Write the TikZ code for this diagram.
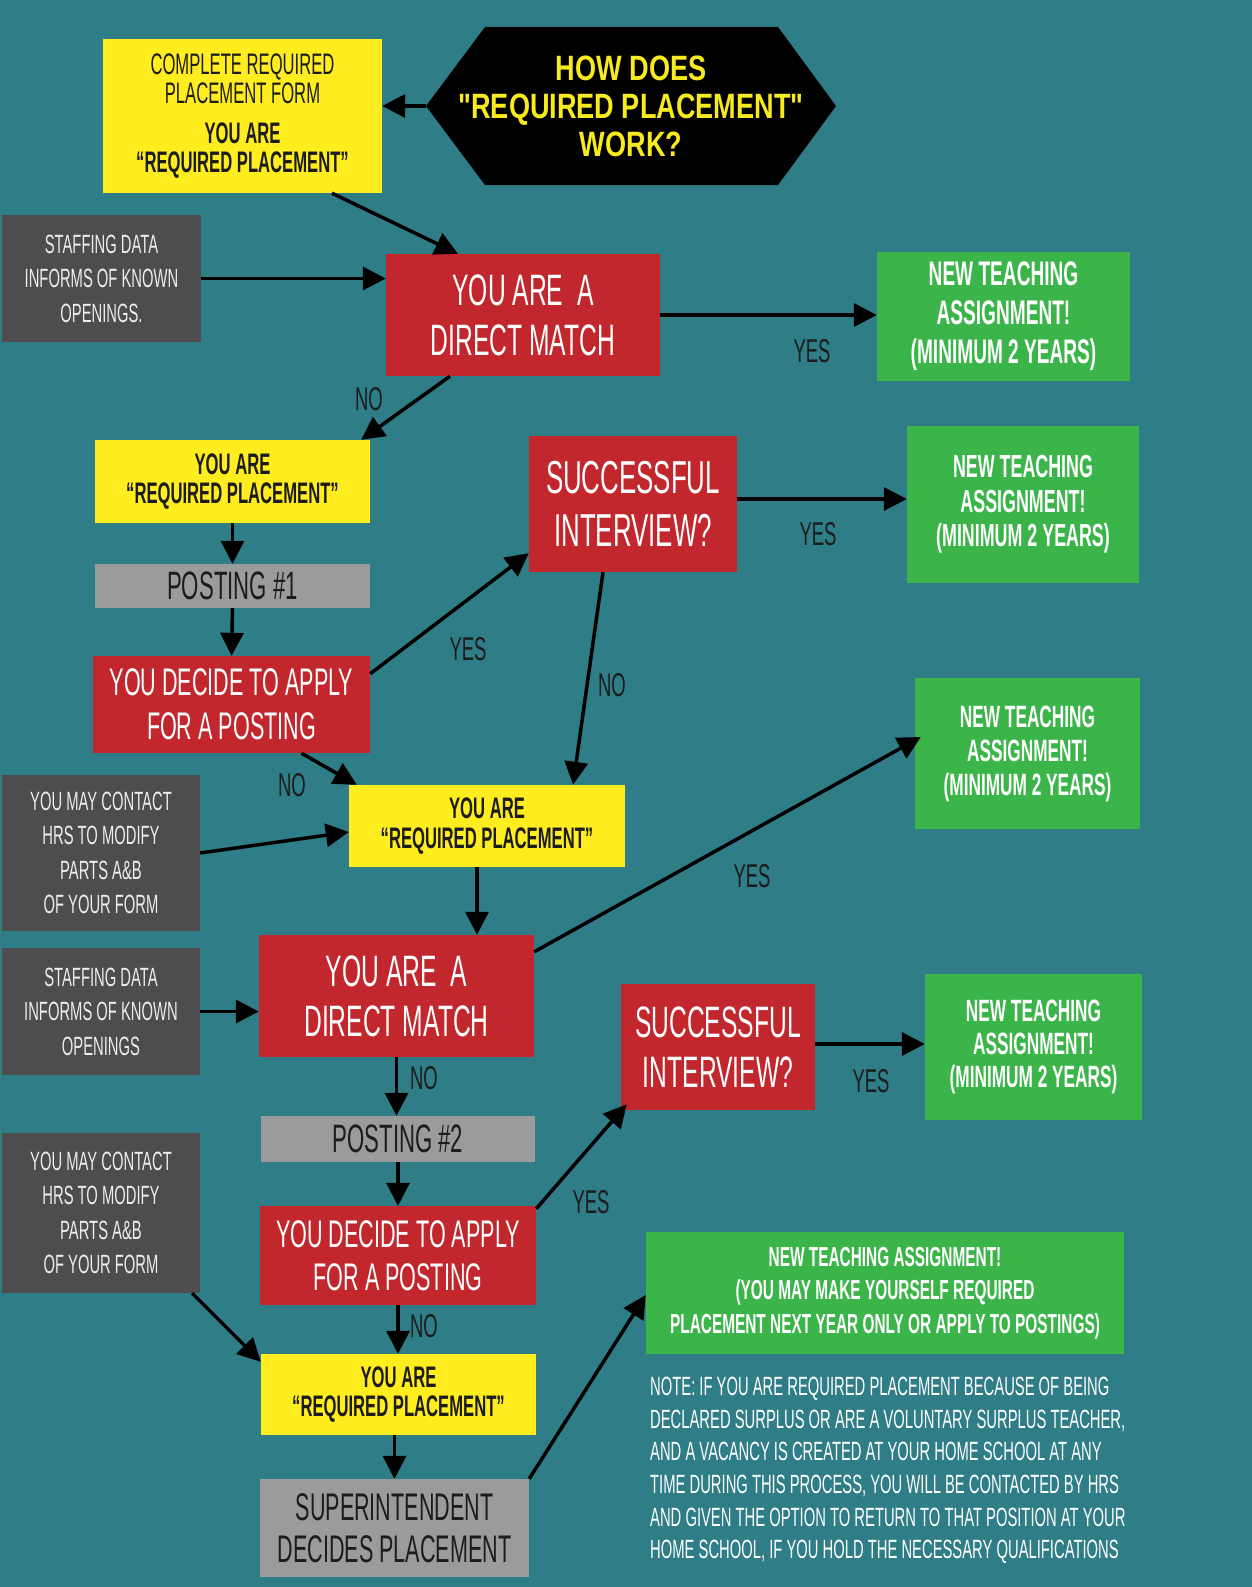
\documentclass[tikz,border=0pt]{standalone}
\usepackage{fontspec}
\setmainfont{Liberation Sans}
\newfontfamily\cf[FakeStretch=0.56]{Liberation Sans}
\newfontfamily\hf[FakeStretch=0.77]{Liberation Sans}
\usetikzlibrary{arrows.meta}
\definecolor{bg}{RGB}{47,125,134}
\definecolor{yel}{RGB}{255,237,31}
\definecolor{redb}{RGB}{193,39,45}
\definecolor{grn}{RGB}{59,181,74}
\definecolor{dgray}{RGB}{77,77,77}
\definecolor{lgray}{RGB}{155,155,155}
\definecolor{ink}{RGB}{28,28,28}
\definecolor{ttl}{RGB}{247,234,30}
\newcommand{\fs}[2]{\fontsize{\dimexpr #1pt*11/10\relax}{#2}\selectfont}
\tikzset{
  box/.style={rectangle, inner sep=0pt, align=center},
  ybox/.style={box, fill=yel, text=ink},
  rbox/.style={box, fill=redb, text=white},
  gbox/.style={box, fill=grn, text=white},
  dbox/.style={box, fill=dgray, text=white!93!black},
  lbox/.style={box, fill=lgray, text=ink},
  arr/.style={draw=black, line width=3.5pt, -{Triangle[length=23pt,width=23pt]}},
  lbl/.style={text=ink, inner sep=0pt, font=\cf\fs{30}{30}},
}
\begin{document}
\begin{tikzpicture}[x=1pt,y=-1pt]
\fill[bg] (0,0) rectangle (1252,1587);
\useasboundingbox (0,0) rectangle (1252,1587);

% title hexagon
\fill[black] (426,106) -- (485,27) -- (778,27) -- (836,106) -- (778,185) -- (485,185) -- cycle;
\node[box, minimum width=410, minimum height=158, text=ttl, font=\hf\bfseries\fs{32}{38}] (hex) at (631,106)
  {HOW DOES\\"REQUIRED PLACEMENT"\\WORK?};

\node[ybox, minimum width=279, minimum height=154, font=\cf\fs{27}{29.5}] (yel1) at (242.5,116)
  {COMPLETE REQUIRED\\PLACEMENT FORM\\[10pt]\bfseries YOU ARE\\\bfseries “REQUIRED PLACEMENT”};

\node[dbox, minimum width=199, minimum height=127, font=\cf\fs{24}{34.5}] (stf1) at (101.5,278.5)
  {STAFFING DATA\\INFORMS OF KNOWN\\OPENINGS.};
\node[rbox, minimum width=274, minimum height=122, font=\cf\fs{40}{50}] (dm1) at (523,315)
  {YOU ARE\ \ A\\DIRECT MATCH};
\node[gbox, minimum width=253, minimum height=129, font=\cf\bfseries\fs{31}{39}] (gr1) at (1003.5,316.5)
  {NEW TEACHING\\ASSIGNMENT!\\(MINIMUM 2 YEARS)};

\node[ybox, minimum width=275, minimum height=83, font=\cf\bfseries\fs{27}{29.5}] (yel2) at (232.5,481.5)
  {YOU ARE\\“REQUIRED PLACEMENT”};
\node[lbox, minimum width=275, minimum height=44, font=\cf\fs{36}{36}] (post1) at (232.5,586)
  {POSTING \#1};
\node[rbox, minimum width=277, minimum height=97, font=\cf\fs{35}{44}] (dec1) at (231.5,704.5)
  {YOU DECIDE TO APPLY\\FOR A POSTING};
\node[rbox, minimum width=208, minimum height=136, font=\cf\fs{42}{53}] (si1) at (633,504)
  {SUCCESSFUL\\INTERVIEW?};
\node[gbox, minimum width=232, minimum height=157, font=\cf\bfseries\fs{29}{34.5}] (gr2) at (1023,504.5)
  {NEW TEACHING\\ASSIGNMENT!\\(MINIMUM 2 YEARS)};

\node[ybox, minimum width=276, minimum height=82, font=\cf\bfseries\fs{27}{29.5}] (yel3) at (487,826)
  {YOU ARE\\“REQUIRED PLACEMENT”};
\node[dbox, minimum width=198, minimum height=156, font=\cf\fs{24}{34.5}] (con1) at (101,853)
  {YOU MAY CONTACT\\HRS TO MODIFY\\PARTS A\&B\\OF YOUR FORM};
\node[gbox, minimum width=225, minimum height=151, font=\cf\bfseries\fs{28}{34}] (gr3) at (1027.5,753.5)
  {NEW TEACHING\\ASSIGNMENT!\\(MINIMUM 2 YEARS)};

\node[rbox, minimum width=275, minimum height=122, font=\cf\fs{40}{50}] (dm2) at (396.5,996)
  {YOU ARE\ \ A\\DIRECT MATCH};
\node[dbox, minimum width=198, minimum height=127, font=\cf\fs{24}{34.5}] (stf2) at (101,1011.5)
  {STAFFING DATA\\INFORMS OF KNOWN\\OPENINGS};
\node[rbox, minimum width=194, minimum height=126, font=\cf\fs{40}{50}] (si2) at (718,1047)
  {SUCCESSFUL\\INTERVIEW?};
\node[gbox, minimum width=217, minimum height=146, font=\cf\bfseries\fs{28}{33}] (gr4) at (1033.5,1047)
  {NEW TEACHING\\ASSIGNMENT!\\(MINIMUM 2 YEARS)};

\node[lbox, minimum width=274, minimum height=46, font=\cf\fs{36}{36}] (post2) at (398,1139)
  {POSTING \#2};
\node[rbox, minimum width=276, minimum height=99, font=\cf\fs{35}{43.5}] (dec2) at (398,1255.5)
  {YOU DECIDE TO APPLY\\FOR A POSTING};
\node[dbox, minimum width=198, minimum height=160, font=\cf\fs{24}{34.5}] (con2) at (101,1213)
  {YOU MAY CONTACT\\HRS TO MODIFY\\PARTS A\&B\\OF YOUR FORM};
\node[ybox, minimum width=275, minimum height=81, font=\cf\bfseries\fs{27}{29.5}] (yel4) at (398.5,1394.5)
  {YOU ARE\\“REQUIRED PLACEMENT”};
\node[lbox, minimum width=269, minimum height=98, font=\cf\fs{35}{42.5}] (sup) at (394.5,1528)
  {SUPERINTENDENT\\DECIDES PLACEMENT};

\node[gbox, minimum width=478, minimum height=122, font=\cf\bfseries\fs{25}{33.5}] (gr5) at (885,1293)
  {NEW TEACHING ASSIGNMENT!\\(YOU MAY MAKE YOURSELF REQUIRED\\PLACEMENT NEXT YEAR ONLY OR APPLY TO POSTINGS)};

\node[inner sep=0pt, anchor=north west, align=left, text=white, font=\cf\fs{24}{32.6}] (note) at (650,1377)
  {NOTE: IF YOU ARE REQUIRED PLACEMENT BECAUSE OF BEING\\
   DECLARED SURPLUS OR ARE A VOLUNTARY SURPLUS TEACHER,\\
   AND A VACANCY IS CREATED AT YOUR HOME SCHOOL AT ANY\\
   TIME DURING THIS PROCESS, YOU WILL BE CONTACTED BY HRS\\
   AND GIVEN THE OPTION TO RETURN TO THAT POSITION AT YOUR\\
   HOME SCHOOL, IF YOU HOLD THE NECESSARY QUALIFICATIONS};

% connectors
\draw[arr] (hex.west) -- (hex.west -| yel1.east);
\draw[arr] ([xshift=89.5]yel1.south) -- ([xshift=-65]dm1.north);
\draw[arr] (stf1.east) -- (stf1.east -| dm1.west);
\draw[arr] (dm1.east) -- (dm1.east -| gr1.west);
\draw[arr] ([xshift=-73]dm1.south) -- ([xshift=-9]yel2.north east);
\draw[arr] (yel2.south) -- (post1.north);
\draw[arr] (post1.south) -- (dec1.north);
\draw[arr] ([yshift=-18]dec1.north east) -- ([yshift=19]si1.south west);
\draw[arr] ([yshift=5]si1.east) -- ([yshift=5]si1.east -| gr2.west);
\draw[arr] ([xshift=-30]si1.south) -- ([xshift=86]yel3.north);
\draw[arr] ([xshift=70]dec1.south) -- ([xshift=8]yel3.north west);
\draw[arr] (con1.east) -- ([yshift=-6]yel3.west);
\draw[arr] ([xshift=-10]yel3.south) -- ([xshift=-10]yel3.south |- dm2.north);
\draw[arr] ([yshift=-17]dm2.north east) -- ([xshift=6,yshift=16.5]gr3.west);
\draw[arr] (stf2.east) -- (stf2.east -| dm2.west);
\draw[arr] (dm2.south) -- (dm2.south |- post2.north);
\draw[arr] (post2.south) -- (dec2.north);
\draw[arr] ([yshift=-3]dec2.north east) -- ([xshift=6,yshift=6]si2.south west);
\draw[arr] ([yshift=3]si2.east) -- ([yshift=3]si2.east -| gr4.west);
\draw[arr] (dec2.south) -- (dec2.south |- yel4.north);
\draw[arr] ([xshift=-8]con2.south east) -- ([yshift=-8]yel4.north west);
\draw[arr] ([xshift=-4]yel4.south) -- ([xshift=-4]yel4.south |- sup.north);
\draw[arr] (sup.north east) -- ([yshift=-2]gr5.west);

% labels
\node[lbl] (l1) at (812,351) {YES};
\node[lbl] (l2) at (369,399) {NO};
\node[lbl] (l3) at (468,649) {YES};
\node[lbl] (l4) at (818,534) {YES};
\node[lbl] (l5) at (612,685) {NO};
\node[lbl] (l6) at (292,785) {NO};
\node[lbl] (l7) at (752,876) {YES};
\node[lbl] (l8) at (424,1078) {NO};
\node[lbl] (l9) at (871,1081) {YES};
\node[lbl] (l10) at (591,1202) {YES};
\node[lbl] (l11) at (424,1326) {NO};
\end{tikzpicture}
\end{document}
